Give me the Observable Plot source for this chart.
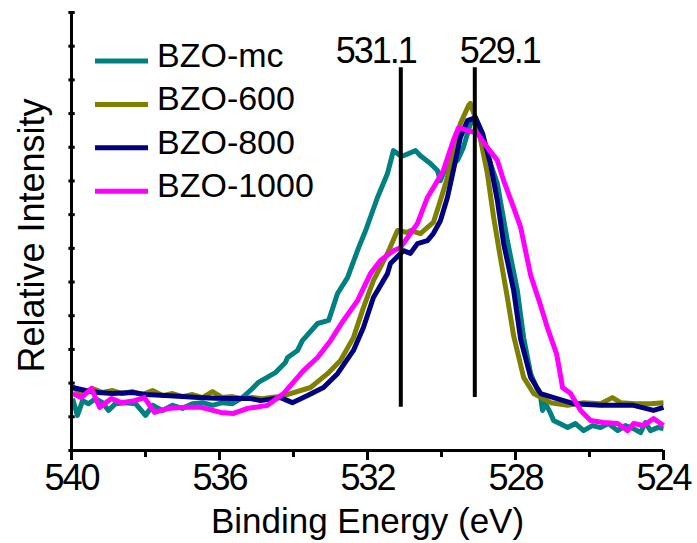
<!DOCTYPE html>
<html>
<head>
<meta charset="utf-8">
<script src="https://cdn.jsdelivr.net/npm/d3@7"></script>
<script src="https://cdn.jsdelivr.net/npm/@observablehq/plot@0.6"></script>
<style>
  body { margin: 0; background: #fff; }
  #chart { width: 697px; height: 543px; }
  .num text, g.num text { letter-spacing: -2px; }
</style>
</head>
<body>
<div id="chart"></div>
<script>
// ---------- data ----------
const seriesNames = ["BZO-mc", "BZO-600", "BZO-800", "BZO-1000"];
const seriesColors = ["#008080", "#808000", "#000080", "#ff00ff"];

const mcE = [539.97,539.84,539.70,539.54,539.35,539.16,539.00,538.81,538.54,538.27,538.00,537.81,537.54,537.27,537.00,536.73,536.46,536.19,535.92,535.65,535.38,535.11,534.95,534.76,534.49,534.22,534.16,533.89,533.76,533.35,533.05,532.81,532.54,532.24,532.05,531.73,531.46,531.30,531.11,531.03,530.70,530.57,530.30,530.11,530.03,529.92,529.57,529.41,529.22,529.10,528.89,528.49,528.22,527.95,527.78,527.59,527.32,527.27,527.19,527.05,526.97,526.59,526.38,526.16,525.92,525.70,525.49,525.24,525.03,524.81,524.62,524.49,524.35,524.16,524.00];
const mcI = [1.54,1.04,1.48,1.39,1.54,1.42,1.19,1.39,1.42,1.39,1.04,1.34,1.19,1.34,1.25,1.39,1.42,1.34,1.42,1.39,1.57,1.84,2.02,2.14,2.31,2.61,2.76,2.97,3.26,3.77,3.86,4.66,5.13,6.02,6.53,7.51,8.22,8.90,8.75,8.75,8.90,8.75,8.52,8.31,8.01,8.30,8.61,8.99,9.70,9.79,9.20,7.92,6.23,4.75,3.35,2.28,1.57,1.19,1.39,1.10,0.89,0.68,0.80,0.59,0.74,0.68,0.80,0.59,0.74,0.65,0.53,0.83,0.59,0.68,0.65];

const e600E = [539.97,539.70,539.43,539.16,538.89,538.62,538.35,538.08,537.81,537.54,537.27,537.00,536.73,536.46,536.19,535.92,535.65,535.38,535.11,534.84,534.62,534.35,534.08,533.54,533.08,532.73,532.38,532.11,531.84,531.46,531.19,530.92,530.84,530.57,530.38,530.22,530.03,529.84,529.68,529.49,529.27,529.22,529.03,528.76,528.59,528.41,528.22,528.05,527.78,527.51,527.05,526.59,526.16,525.70,525.38,525.16,524.76,524.35,524.00];
const e600I = [1.87,1.69,1.84,1.72,1.78,1.69,1.75,1.66,1.78,1.63,1.69,1.60,1.66,1.57,1.75,1.57,1.60,1.54,1.57,1.54,1.57,1.60,1.69,1.87,2.28,2.67,3.35,4.24,5.04,5.85,6.53,6.47,6.53,6.44,6.62,6.77,7.42,8.10,8.90,9.70,10.24,10.30,9.70,8.22,6.91,5.73,4.54,3.40,2.17,1.69,1.42,1.34,1.42,1.39,1.57,1.42,1.39,1.39,1.42];

const e800E = [539.97,539.62,539.27,538.90,538.35,538.00,537.46,537.00,536.57,536.10,535.65,535.16,534.89,534.35,534.03,533.62,533.19,532.81,532.38,532.11,531.84,531.46,531.38,531.03,530.84,530.65,530.38,530.22,530.03,529.84,529.68,529.49,529.30,529.08,528.89,528.68,528.49,528.32,528.05,527.86,527.59,527.32,526.97,526.43,525.70,524.81,524.27,524.00];
const e800I = [1.87,1.78,1.72,1.69,1.72,1.66,1.63,1.60,1.57,1.55,1.54,1.54,1.48,1.57,1.42,1.63,1.87,2.28,2.97,3.65,4.54,5.25,5.55,5.93,5.85,6.14,6.23,6.44,6.82,7.51,8.31,9.29,9.79,9.88,9.41,8.52,7.42,6.14,4.75,3.30,2.17,1.69,1.57,1.39,1.34,1.34,1.19,1.28];

const e1000E = [539.97,539.73,539.46,539.24,538.92,538.65,538.30,538.03,537.76,537.38,536.95,536.49,535.97,535.62,535.24,534.70,534.27,533.73,533.35,533.00,532.65,532.27,531.92,531.65,531.30,531.11,530.84,530.65,530.38,530.22,529.95,529.68,529.54,529.30,529.03,528.76,528.49,528.32,528.05,527.86,527.59,527.32,527.14,526.89,526.76,526.73,526.51,526.24,525.97,525.62,525.24,524.97,524.81,524.54,524.27,524.00];
const e1000I = [1.69,1.57,1.84,1.28,1.54,1.42,1.48,1.57,1.13,1.25,1.28,1.28,1.13,1.10,1.25,1.34,1.69,2.37,2.76,3.26,3.86,4.45,5.25,5.64,5.93,6.02,6.44,6.74,7.51,7.80,8.31,9.20,9.58,9.50,9.41,8.99,8.61,8.01,7.21,6.62,5.20,4.30,3.65,2.87,2.08,1.87,1.69,1.19,0.89,0.83,0.80,0.59,0.80,0.74,0.95,0.74];

const peakE = [531.1, 529.1];
const peakLabels = ["531.1", "529.1"];
const peakTop = [11.36, 11.36];
const peakBottom = [1.28, 1.57];

const xMajorTicks = [540, 536, 532, 528, 524];
const xMinorTicks = [538, 534, 530, 526];
const yTicks = d3.range(0, 14);
const xTitle = "Binding Energy (eV)";
const yTitle = "Relative Intensity";

// ---------- build ----------
const seriesE = [mcE, e600E, e800E, e1000E];
const seriesI = [mcI, e600I, e800I, e1000I];
const tables = seriesNames.map((name, k) =>
  seriesE[k].map((E, i) => ({series: name, E, I: seriesI[k][i]})));
const peaks = peakE.map((E, i) => ({E, label: peakLabels[i], top: peakTop[i], bottom: peakBottom[i], i}));

const font = "'Liberation Sans', Arial, Helvetica, sans-serif";

const legend = (index, scales, values, dimensions) => {
  const g = d3.create("svg:g");
  const x0 = dimensions.marginLeft;
  const y0 = dimensions.marginTop;
  seriesNames.forEach((name, i) => {
    const y = y0 + 49 + i * 43.4;
    g.append("line")
      .attr("x1", x0 + 24).attr("x2", x0 + 77)
      .attr("y1", y).attr("y2", y)
      .attr("stroke", seriesColors[i]).attr("stroke-width", 5);
    g.append("text")
      .attr("x", x0 + 86).attr("y", y + 6)
      .attr("text-anchor", "start")
      .attr("font-size", 34).attr("font-family", font)
      .attr("fill", "#000")
      .text(name);
  });
  return g.node();
};

const plot = Plot.plot({
  width: 697,
  height: 543,
  marginLeft: 71,
  marginRight: 34,
  marginTop: 12,
  marginBottom: 93,
  x: {domain: [540, 524], axis: null},
  y: {domain: [0, 13], axis: null},
  style: {fontFamily: font, background: "#fff", color: "#000", overflow: "visible"},
  marks: [
    ...tables.map((t, k) => Plot.line(t, {x: "E", y: "I", stroke: seriesColors[k], strokeWidth: 5, strokeLinejoin: "round", strokeLinecap: "butt"})),
    Plot.ruleX(peaks, {x: "E", y1: "bottom", y2: "top", stroke: "#000", strokeWidth: 4}),
    ...peaks.map(p => Plot.text([p], {
      x: "E", y: "top", text: "label",
      textAnchor: p.i === 0 ? "end" : "start",
      dx: p.i === 0 ? 15 : -15, dy: -5,
      lineAnchor: "bottom", fontSize: 36, fill: "#000",
      className: "num"
    })),
    Plot.ruleY([0], {stroke: "#000", strokeWidth: 3}),
    Plot.ruleX([540], {y1: 0, y2: 13, stroke: "#000", strokeWidth: 3}),
    Plot.ruleY(yTicks, {x1: 540.07, x2: 539.9, stroke: "#000", strokeWidth: 3}),
    Plot.axisX(xMajorTicks, {tickSize: 10, strokeWidth: 3, tickPadding: 4, fontSize: 36, tickFormat: d => String(d), label: null, className: "num"}),
    Plot.axisX(xMinorTicks, {tickSize: 7, strokeWidth: 3, tickFormat: () => "", label: null}),
    Plot.text([xTitle], {frameAnchor: "bottom", dy: 82, lineAnchor: "bottom", fontSize: 35, fill: "#000"}),
    Plot.text([yTitle], {frameAnchor: "left", dx: -28, dy: 4, rotate: -90, textAnchor: "middle", lineAnchor: "bottom", fontSize: 36, fill: "#000"}),
    legend
  ]
});
document.getElementById("chart").appendChild(plot);
</script>
</body>
</html>
